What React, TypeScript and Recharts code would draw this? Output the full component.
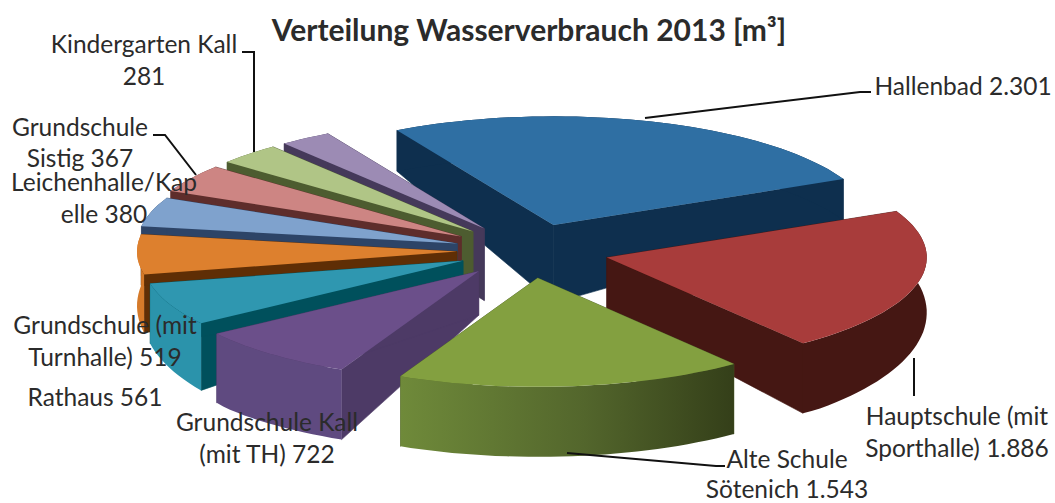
import { PieChart, Pie } from "recharts";

const names = [
  "Hallenbad",
  "Hauptschule (mit Sporthalle)",
  "Alte Schule Sötenich",
  "Grundschule Kall (mit TH)",
  "Rathaus",
  "Grundschule (mit Turnhalle)",
  "Leichenhalle/Kapelle",
  "Grundschule Sistig",
  "Kindergarten Kall",
  "", // this slice has no label in the picture
];
const values = [2301, 1886, 1543, 722, 561, 519, 380, 367, 281, 230];
const data = names.map((name, i) => ({ name, value: values[i] }));

const TOP_COLORS = ["#2f6fa3", "#a83c3b", "#83a040", "#6b4f8a", "#2f97b0", "#dd802e", "#7fa2cd", "#cd8583", "#b0c586", "#9c8bb4"];
const RADIAL_COLORS = ["#0e2f4e", "#451713", "#4d5f28", "#4d3a66", "#00505c", "#5f2e05", "#2d4467", "#5e2d2b", "#4d5c30", "#45395a"];
const ARC_COLORS = ["#0e2f4e", "#451713", "url(#alteArc)", "#5f4a80", "#2b93ab", "#d57a2a", "#2d4467", "#5e2d2b", "#4d5c30", "#45395a"];
const APEX_DEPTH = [78, 52, 50, 44, 40, 40, 40, 38, 47, 72];
const EXPLODE = [80, 80, 80, 78, 72, 72, 75, 80, 80, 80];
// back to front, so nearer slices cover the ones behind
const DRAW_ORDER = [0, 9, 8, 7, 6, 5, 4, 3, 1, 2];

const TILT = 0.34;
const TEXT = "#2b2b2b";

const LABELS: Record<number, { lines: [string, number, number][]; leader?: string }> = {
  0: { lines: [["Hallenbad 2.301", 963, 95]], leader: "645,118 860,92 871,92" },
  1: { lines: [["Hauptschule (mit", 957, 425], ["Sporthalle) 1.886", 957, 457]], leader: "914,358 914,396" },
  2: { lines: [["Alte Schule", 787, 468], ["Sötenich 1.543", 787, 498]], leader: "567,453 716,466 725,466" },
  3: { lines: [["Grundschule Kall", 267, 431], ["(mit TH) 722", 267, 463]] },
  4: { lines: [["Rathaus 561", 95, 406]] },
  5: { lines: [["Grundschule (mit", 105, 334], ["Turnhalle) 519", 105, 366]] },
  6: { lines: [["Leichenhalle/Kap", 104, 191], ["elle 380", 104, 223]] },
  7: { lines: [["Grundschule", 80, 136], ["Sistig 367", 80, 167]], leader: "153,135 165,135 196,175" },
  8: { lines: [["Kindergarten Kall", 144, 53], ["281", 144, 85]], leader: "242,52 254,52 254,152" },
};

const rad = (d: number) => (d * Math.PI) / 180;
const depthAt = (y: number) => Math.min(70, Math.max(41, 41 + (y - 178) * 0.18));
const poly = (pts: number[][]) => pts.map((p) => p[0].toFixed(1) + "," + p[1].toFixed(1)).join(" ");

function Slice3D(props: any) {
  const { cx, cy, outerRadius, startAngle, endAngle, midAngle, index } = props;
  const ax = cx + EXPLODE[index] * Math.cos(rad(midAngle));
  const ay = cy - EXPLODE[index] * TILT * Math.sin(rad(midAngle));
  const steps = Math.max(4, Math.ceil(Math.abs(startAngle - endAngle) / 2));
  const arc: number[][] = [];
  for (let s = 0; s <= steps; s++) {
    const a = rad(startAngle + ((endAngle - startAngle) * s) / steps);
    arc.push([ax + outerRadius * Math.cos(a), ay - outerRadius * TILT * Math.sin(a)]);
  }
  const low = (p: number[]) => [p[0], p[1] + depthAt(p[1])];
  const apexLow = [ax, ay + APEX_DEPTH[index]];
  const first = arc[0];
  const last = arc[arc.length - 1];
  const arcWall = [...arc, ...arc.map(low).reverse()];
  const radial = RADIAL_COLORS[index];
  return (
    <g>
      <polygon points={poly([[ax, ay], first, low(first), apexLow])} fill={radial} stroke={radial} strokeWidth={0.6} />
      <polygon points={poly([[ax, ay], last, low(last), apexLow])} fill={radial} stroke={radial} strokeWidth={0.6} />
      <polygon points={poly(arcWall)} fill={ARC_COLORS[index]} />
      <polygon points={poly([[ax, ay], ...arc])} fill={TOP_COLORS[index]} />
    </g>
  );
}

function drawSlice(i: number) {
  return (props: any) => (props.index === i ? <Slice3D {...props} /> : <g />);
}

function renderLabel(props: any) {
  const spec = LABELS[props.index];
  if (!spec) return <g />;
  return (
    <g>
      {spec.leader && <polyline points={spec.leader} fill="none" stroke="#111" strokeWidth={2} />}
      {spec.lines.map(([txt, x, y]) => (
        <text key={txt} x={x} y={y} textAnchor="middle" fontFamily="Lato" fontSize={24.5} fill={TEXT}>
          {txt}
        </text>
      ))}
    </g>
  );
}

export default function App() {
  return (
    <div style={{ position: "absolute", left: 0, top: 0, background: "#fff" }}>
      <PieChart width={1055} height={503}>
        <defs>
          <linearGradient id="alteArc" x1="0" y1="0" x2="1" y2="0">
            <stop offset="0%" stopColor="#6f8a3a" />
            <stop offset="55%" stopColor="#53662c" />
            <stop offset="100%" stopColor="#343f19" />
          </linearGradient>
        </defs>
        {DRAW_ORDER.map((i, k) => (
          <Pie
            key={i}
            data={data}
            dataKey="value"
            nameKey="name"
            cx={524}
            cy={246}
            innerRadius={0}
            outerRadius={320}
            startAngle={119.3}
            endAngle={-240.7}
            paddingAngle={0}
            stroke="none"
            isAnimationActive={false}
            shape={drawSlice(i)}
            label={k === DRAW_ORDER.length - 1 ? renderLabel : false}
            labelLine={false}
          />
        ))}
        <text x={529} y={41} textAnchor="middle" fontFamily="Lato" fontWeight={700} fontSize={30} fill={TEXT}>
          Verteilung Wasserverbrauch 2013 [m³]
        </text>
      </PieChart>
    </div>
  );
}
